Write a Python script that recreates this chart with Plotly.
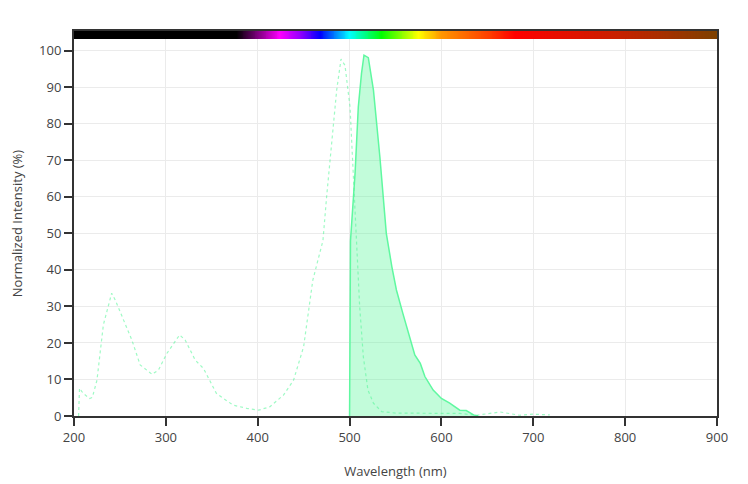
import numpy as np
import plotly.graph_objects as go

# Excitation spectrum (dotted)
ex_wl = [205, 206, 210, 217, 220, 225, 232, 241, 245, 254, 263, 272, 285, 292, 301,
         315, 321, 332, 341, 355, 373, 388, 401, 413, 428, 439, 450, 460, 471, 475,
         480.5, 486, 490.7, 495, 500.5, 504, 508, 511, 515, 520, 526, 535, 550, 580,
         620, 638, 650, 664, 685, 700, 718]
ex_val = [0, 7.6, 6.2, 4.8, 5.1, 9.8, 25, 33.6, 31.7, 26.3, 20.8, 14, 11.4, 12.6, 17.1,
          22.2, 20.8, 15.3, 13, 6.2, 3, 2.1, 1.6, 2.5, 5.7, 9.8, 19, 37.2, 48, 60,
          75.6, 89.3, 97.7, 96, 84.6, 66.5, 48, 29.9, 16.2, 7.1, 3.5, 1.2, 0.8, 0.7,
          0.7, 0.2, 0.6, 1.1, 0.2, 0.5, 0.3]

# Emission spectrum (filled)
em_wl = [500, 500.3, 501, 506, 509.5, 513, 515.7, 520.4, 526, 533, 540, 546, 551, 558,
         566, 571, 577, 582, 591, 600, 609, 620, 627, 635, 640]
em_val = [0, 40, 48, 66.5, 84.6, 93.8, 98.8, 98.1, 89.2, 70.9, 50, 40.9, 34.5, 28.1,
          20.8, 16.7, 14.4, 10.8, 7.1, 4.8, 3.5, 1.6, 1.5, 0.3, 0]

# Wavelength colour bar stops (nm, colour)
bar_nm = [200, 377, 424, 446, 468, 500, 535, 575, 600, 653, 680, 800, 900]
bar_col = ["rgb(0,0,0)", "rgb(0,0,0)", "rgb(255,0,255)", "rgb(150,0,255)",
           "rgb(0,0,255)", "rgb(0,255,255)", "rgb(0,255,0)", "rgb(255,255,0)",
           "rgb(255,150,0)", "rgb(255,60,0)", "rgb(255,0,0)", "rgb(195,35,0)",
           "rgb(125,65,0)"]

x_range = [200, 900]
y_range = [0, 105.4]

colorscale = [[(n - x_range[0]) / (x_range[1] - x_range[0]), c] for n, c in zip(bar_nm, bar_col)]
bar_x = np.arange(x_range[0], x_range[1] + 1, 1)

line_col = "rgb(95,248,160)"

fig = go.Figure()
fig.add_trace(go.Heatmap(
    x=bar_x, y=[103.2, y_range[1]], z=[bar_x], zmin=x_range[0], zmax=x_range[1],
    colorscale=colorscale, showscale=False, hoverinfo="skip"))
fig.add_trace(go.Scatter(
    x=em_wl, y=em_val, mode="lines", fill="tozeroy",
    line=dict(color=line_col, width=1.5),
    fillcolor="rgba(80,245,150,0.35)", showlegend=False))
fig.add_trace(go.Scatter(
    x=ex_wl, y=ex_val, mode="lines",
    line=dict(color="rgba(80,245,150,0.55)", width=1.2, dash="dot"),
    showlegend=False))

axis_common = dict(showline=True, linecolor="#333", linewidth=2, mirror=True,
                   ticks="outside", ticklen=8, tickwidth=2, tickcolor="#333",
                   gridcolor="#ebebeb", zeroline=False, automargin=False,
                   tickfont=dict(family="Open Sans", size=13, color="#444"))

fig.update_xaxes(range=x_range, dtick=100, title=dict(text="Wavelength (nm)", standoff=22,
                 font=dict(family="Open Sans", size=13, color="#444")), **axis_common)
fig.update_yaxes(range=y_range, tick0=0, dtick=10, title=dict(text="Normalized Intensity (%)", standoff=27,
                 font=dict(family="Open Sans", size=13, color="#444")), **axis_common)

fig.update_layout(
    width=748, height=484,
    margin=dict(l=66, r=39, t=23, b=76),
    plot_bgcolor="white", paper_bgcolor="white",
    font=dict(family="Open Sans", size=13, color="#444"),
)

fig.write_html("out.html")
